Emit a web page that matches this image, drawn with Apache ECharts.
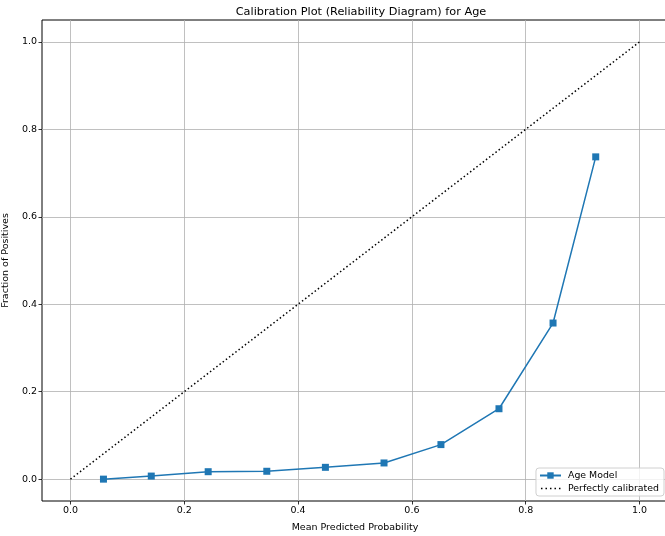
<!DOCTYPE html>
<html>
<head>
<meta charset="utf-8">
<script src="https://cdn.jsdelivr.net/npm/echarts@6/dist/echarts.min.js"></script>
<style>
  html, body { margin: 0; padding: 0; background: #fff; }
  #chart { width: 665px; height: 536px; }
</style>
</head>
<body>
<div id="chart"></div>
<script>
// Mean predicted probability per bin and observed fraction of positives
const meanPredicted = [0.058, 0.142, 0.242, 0.345, 0.448, 0.551, 0.651, 0.753, 0.848, 0.923];
const fractionPositives = [0.0, 0.007, 0.017, 0.018, 0.027, 0.037, 0.079, 0.161, 0.357, 0.737];
// Reference diagonal
const diagonalX = [0, 1];
const diagonalY = [0, 1];
const tickValues = [0, 0.2, 0.4, 0.6, 0.8, 1.0];

const font = 'DejaVu Sans';
const chart = echarts.init(document.getElementById('chart'));

// Dotted-line legend glyph; the two near-invisible corner specks fix its box to 21x8
const dottedIcon = 'path://M0,0h0.01v0.01h-0.01z M20.99,7.99h0.01v0.01h-0.01z ' +
  'M1,3.3h1.5v1.5h-1.5z M5.5,3.3h1.5v1.5h-1.5z M10,3.3h1.5v1.5h-1.5z ' +
  'M14.5,3.3h1.5v1.5h-1.5z M19,3.3h1.5v1.5h-1.5z';

function valueAxis(name, gap) {
  return {
    type: 'value', min: -0.05, max: 1.05,
    name: name, nameLocation: 'middle', nameGap: gap,
    nameTextStyle: { fontFamily: font, fontSize: 9.5, color: '#000' },
    axisLine: { show: false, onZero: false },
    axisTick: { show: true, customValues: tickValues, length: 3.5, lineStyle: { color: '#000', width: 0.8 } },
    axisLabel: { customValues: tickValues, fontFamily: font, fontSize: 9.5, color: '#000', margin: 5,
      formatter: v => v.toFixed(1) },
    splitLine: { show: true, lineStyle: { color: '#b0b0b0', width: 0.8 } }
  };
}

chart.setOption({
  animation: false,
  backgroundColor: '#ffffff',
  title: {
    text: 'Calibration Plot (Reliability Diagram) for Age',
    left: 356, top: 2, textAlign: 'center',
    textStyle: { fontFamily: font, fontSize: 11.3, fontWeight: 'normal', color: '#000' }
  },
  grid: {
    left: 42, top: 20, width: 626, height: 481,
    outerBoundsMode: 'none', containLabel: false,
    show: true, borderColor: '#000', borderWidth: 1, backgroundColor: 'transparent'
  },
  xAxis: valueAxis('Mean Predicted Probability', 22),
  yAxis: valueAxis('Fraction of Positives', 23),
  legend: {
    orient: 'vertical', right: 1, bottom: 40,
    backgroundColor: 'rgba(255,255,255,0.8)', borderColor: '#d0d0d0', borderWidth: 1, borderRadius: 3,
    padding: [3, 5, 3, 3], itemGap: 4, itemWidth: 21, itemHeight: 8,
    textStyle: { fontFamily: font, fontSize: 9.4, color: '#000', padding: [0, 0, 0, 2] },
    data: [
      { name: 'Age Model' },
      { name: 'Perfectly calibrated', icon: dottedIcon, itemStyle: { color: '#000', borderWidth: 0 } }
    ]
  },
  series: [
    {
      name: 'Age Model', type: 'line',
      data: meanPredicted.map((x, i) => [x, fractionPositives[i]]),
      symbol: 'rect', symbolSize: 7,
      lineStyle: { color: '#1f77b4', width: 1.5 },
      itemStyle: { color: '#1f77b4' },
      z: 3
    },
    {
      name: 'Perfectly calibrated', type: 'line',
      data: diagonalX.map((x, i) => [x, diagonalY[i]]),
      symbol: 'none',
      lineStyle: { color: '#000', width: 1.5, type: [1.5, 2.5] },
      itemStyle: { color: '#000' },
      z: 2
    }
  ]
});
</script>
</body>
</html>
